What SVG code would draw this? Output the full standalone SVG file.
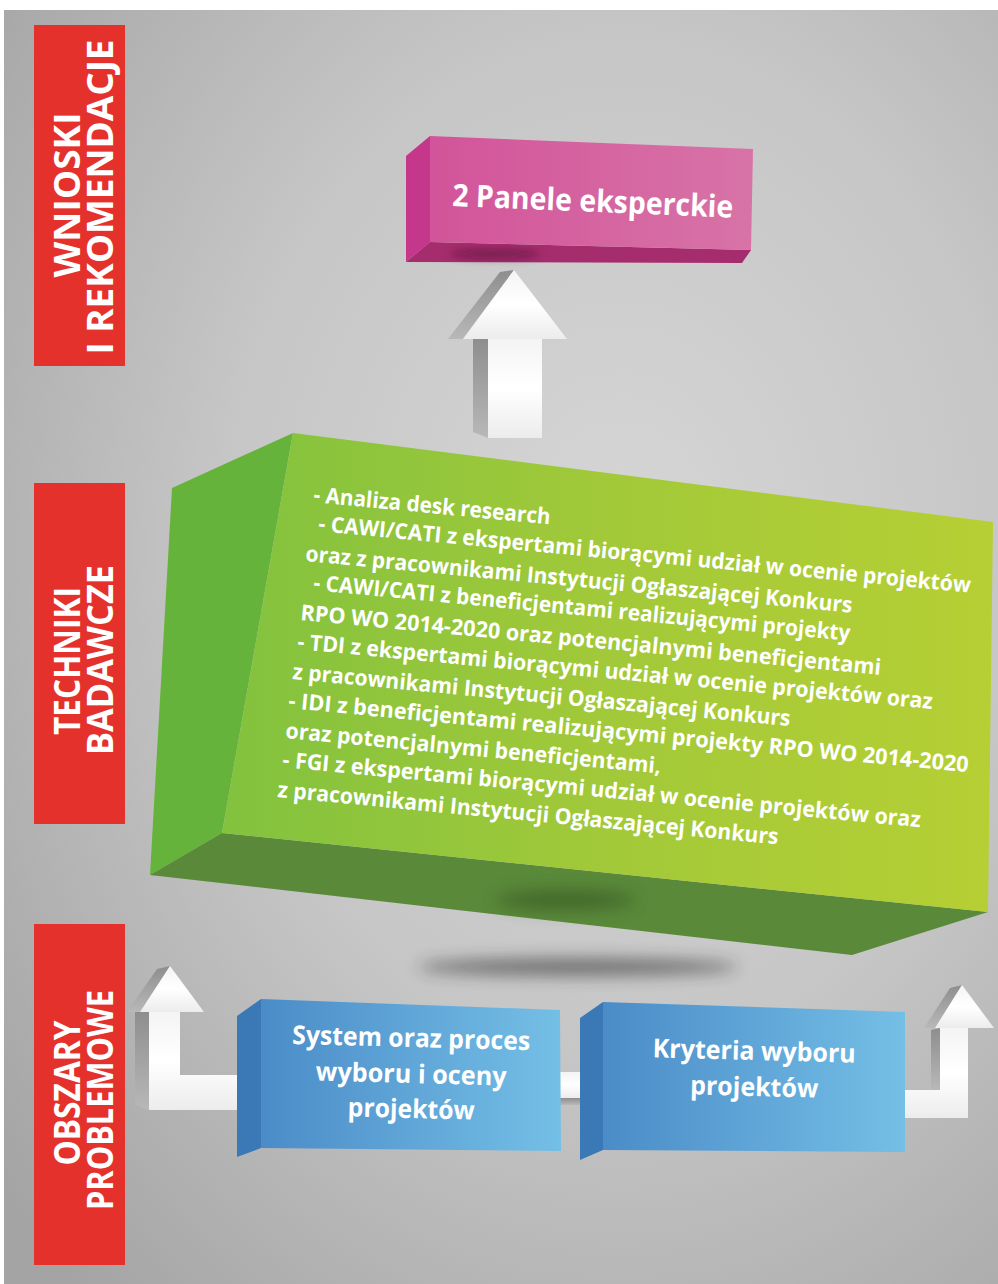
<svg xmlns="http://www.w3.org/2000/svg" width="998" height="1284" viewBox="0 0 998 1284">
<defs>
<radialGradient id="bg" cx="0.62" cy="0.42" r="0.8">
<stop offset="0" stop-color="#d6d6d6"/>
<stop offset="0.5" stop-color="#c6c6c6"/>
<stop offset="1" stop-color="#a4a4a4"/>
</radialGradient>
<linearGradient id="gFront" x1="0" y1="0" x2="1" y2="0">
<stop offset="0" stop-color="#82c23e"/>
<stop offset="0.5" stop-color="#a2c939"/>
<stop offset="1" stop-color="#b6cf34"/>
</linearGradient>
<linearGradient id="pFront" x1="0" y1="0" x2="1" y2="0">
<stop offset="0" stop-color="#d2549a"/>
<stop offset="1" stop-color="#d873a7"/>
</linearGradient>
<linearGradient id="bFront" x1="0" y1="0" x2="1" y2="0">
<stop offset="0" stop-color="#4b8cc8"/>
<stop offset="1" stop-color="#74bfe6"/>
</linearGradient>
<linearGradient id="wFront" x1="0" y1="0" x2="0" y2="1">
<stop offset="0" stop-color="#f4f4f4"/>
<stop offset="0.5" stop-color="#ffffff"/>
<stop offset="1" stop-color="#ececec"/>
</linearGradient>
<linearGradient id="wSide" x1="0" y1="0" x2="0" y2="1">
<stop offset="0" stop-color="#8e8e8e"/>
<stop offset="1" stop-color="#b8b8b8"/>
</linearGradient>
<filter id="blur8" x="-50%" y="-200%" width="200%" height="500%"><feGaussianBlur stdDeviation="8"/></filter>
<filter id="blur4" x="-50%" y="-200%" width="200%" height="500%"><feGaussianBlur stdDeviation="4"/></filter>
<style>
.lbl{fill:#e5312b}
.lt{font-family:"Open Sans","DejaVu Sans",sans-serif;font-weight:700;font-size:36px;fill:#fff;text-anchor:middle}
.bt{font-family:"Open Sans","DejaVu Sans",sans-serif;font-weight:700;fill:#fff}
.gt{font-size:22px}
.side{fill:url(#wSide)}
.wf{fill:url(#wFront)}
</style>
</defs>

<rect x="0" y="0" width="998" height="1284" fill="#ffffff"/>
<rect x="4" y="10" width="994" height="1274" fill="url(#bg)"/>

<!-- left labels -->
<g id="label-wnioski">
<rect class="lbl" x="34" y="25" width="91" height="341"/>
<text class="lt" transform="translate(80,195) rotate(-90)" textLength="165" lengthAdjust="spacingAndGlyphs">WNIOSKI</text>
<text class="lt" transform="translate(113,197) rotate(-90)" textLength="315" lengthAdjust="spacingAndGlyphs">I REKOMENDACJE</text>
</g>
<g id="label-techniki">
<rect class="lbl" x="34" y="483" width="91" height="341"/>
<text class="lt" transform="translate(80,661) rotate(-90)" textLength="148" lengthAdjust="spacingAndGlyphs">TECHNIKI</text>
<text class="lt" transform="translate(113,660) rotate(-90)" textLength="190" lengthAdjust="spacingAndGlyphs">BADAWCZE</text>
</g>
<g id="label-obszary">
<rect class="lbl" x="34" y="924" width="91" height="341"/>
<text class="lt" transform="translate(80,1093) rotate(-90)" textLength="145" lengthAdjust="spacingAndGlyphs">OBSZARY</text>
<text class="lt" transform="translate(113,1100) rotate(-90)" textLength="220" lengthAdjust="spacingAndGlyphs">PROBLEMOWE</text>
</g>

<!-- shadows -->
<ellipse cx="578" cy="967" rx="160" ry="9" fill="#2a2a2a" opacity="0.55" filter="url(#blur8)"/>

<g id="connectors">
<g id="arrow-up">
<polygon class="side" points="500,272 514,270 463,339 448,339"/>
<polygon class="wf" points="514,270 567,339 463,339"/>
<polygon class="side" points="473,339 488,339 488,438 473,432"/>
<polygon class="wf" points="488,339 542,339 542,438 488,438"/>
</g>
<g id="arrow-left">
<polygon class="side" points="157,969 170,966 140,1012 127,1012"/>
<polygon class="wf" points="170,966 204,1012 140,1012"/>
<polygon class="side" points="135,1012 149,1012 149,1110 135,1105"/>
<polygon class="wf" points="149,1012 180,1012 180,1075 252,1075 252,1110 149,1110"/>
</g>
<g id="link-middle">
<polygon class="wf" points="558,1072 602,1072 602,1098 558,1098"/>
<polygon class="side" points="558,1098 602,1098 602,1105 558,1105"/>
</g>
<g id="arrow-right">
<polygon class="side" points="950,988 962,985 935,1028 924,1028"/>
<polygon class="wf" points="962,985 994,1028 935,1028"/>
<polygon class="side" points="931,1030 940,1028 940,1090 931,1090"/>
<polygon class="wf" points="940,1028 968,1028 968,1118 902,1118 902,1090 940,1090"/>
</g>
</g>

<!-- pink node -->
<g id="node-panele">
<polygon fill="#c4378a" points="406,156 430,136 430,242 406,262"/>
<polygon fill="#a52d6d" points="406,262 430,242 751,250 742,263"/>
<ellipse cx="495" cy="254" rx="45" ry="4" fill="#4a1030" opacity="0.6" filter="url(#blur4)"/>
<polygon fill="url(#pFront)" points="430,136 753,149 751,250 430,242"/>
<text class="bt" x="452" y="206" font-size="31" transform="rotate(2.4,452,206)" textLength="281" lengthAdjust="spacingAndGlyphs">2 Panele eksperckie</text>
</g>

<!-- green node -->
<g id="node-techniki">
<polygon fill="#66b33c" points="172,488 293,433 222,833 150,875"/>
<polygon fill="#5a893a" points="150,875 222,833 988,912 852,955"/>
<ellipse cx="565" cy="900" rx="70" ry="10" fill="#2f4a1c" opacity="0.5" filter="url(#blur8)"/>
<polygon fill="url(#gFront)" points="293,433 993,522 988,912 222,833"/>
<g class="bt gt">
<text x="313" y="502" transform="rotate(5.4,313,502)" textLength="238" lengthAdjust="spacingAndGlyphs">- Analiza desk research</text>
<text x="318" y="531" transform="rotate(5.4,318,531)" textLength="655" lengthAdjust="spacingAndGlyphs">- CAWI/CATI z ekspertami biorącymi udział w ocenie projektów</text>
<text x="305" y="561" transform="rotate(5.4,305,561)" textLength="549" lengthAdjust="spacingAndGlyphs">oraz z pracownikami Instytucji Ogłaszającej Konkurs</text>
<text x="313" y="590" transform="rotate(5.4,313,590)" textLength="539" lengthAdjust="spacingAndGlyphs">- CAWI/CATI z beneficjentami realizującymi projekty</text>
<text x="300" y="620" transform="rotate(5.4,300,620)" textLength="583" lengthAdjust="spacingAndGlyphs">RPO WO 2014-2020 oraz potencjalnymi beneficjentami</text>
<text x="297" y="649" transform="rotate(5.4,297,649)" textLength="638" lengthAdjust="spacingAndGlyphs">- TDI z ekspertami biorącymi udział w ocenie projektów oraz</text>
<text x="292" y="679" transform="rotate(5.4,292,679)" textLength="500" lengthAdjust="spacingAndGlyphs">z pracownikami Instytucji Ogłaszającej Konkurs</text>
<text x="288" y="708" transform="rotate(5.4,288,708)" textLength="683" lengthAdjust="spacingAndGlyphs">- IDI z beneficjentami realizującymi projekty RPO WO 2014-2020</text>
<text x="285" y="738" transform="rotate(5.4,285,738)" textLength="377" lengthAdjust="spacingAndGlyphs">oraz potencjalnymi beneficjentami,</text>
<text x="282" y="767" transform="rotate(5.4,282,767)" textLength="641" lengthAdjust="spacingAndGlyphs">- FGI z ekspertami biorącymi udział w ocenie projektów oraz</text>
<text x="277" y="797" transform="rotate(5.4,277,797)" textLength="503" lengthAdjust="spacingAndGlyphs">z pracownikami Instytucji Ogłaszającej Konkurs</text>
</g>
</g>

<!-- blue nodes -->
<g id="node-system">
<polygon fill="#3b79b6" points="237,1016 261,999 261,1148 237,1157"/>
<polygon fill="url(#bFront)" points="261,999 560,1010 561,1151 261,1148"/>
<g class="bt" font-size="26" text-anchor="middle">
<text x="411" y="1047" transform="rotate(1.5,411,1047)" textLength="238" lengthAdjust="spacingAndGlyphs">System oraz proces</text>
<text x="411" y="1083" transform="rotate(1.5,411,1083)" textLength="191" lengthAdjust="spacingAndGlyphs">wyboru i oceny</text>
<text x="411" y="1118" transform="rotate(1.5,411,1118)" textLength="127" lengthAdjust="spacingAndGlyphs">projektów</text>
</g>
</g>
<g id="node-kryteria">
<polygon fill="#3b79b6" points="580,1018 603,1002 603,1150 580,1160"/>
<polygon fill="url(#bFront)" points="603,1002 905,1012 905,1152 603,1150"/>
<g class="bt" font-size="26" text-anchor="middle">
<text x="754" y="1060" transform="rotate(1.5,754,1060)" textLength="203" lengthAdjust="spacingAndGlyphs">Kryteria wyboru</text>
<text x="754" y="1096" transform="rotate(1.5,754,1096)" textLength="128" lengthAdjust="spacingAndGlyphs">projektów</text>
</g>
</g>
</svg>
